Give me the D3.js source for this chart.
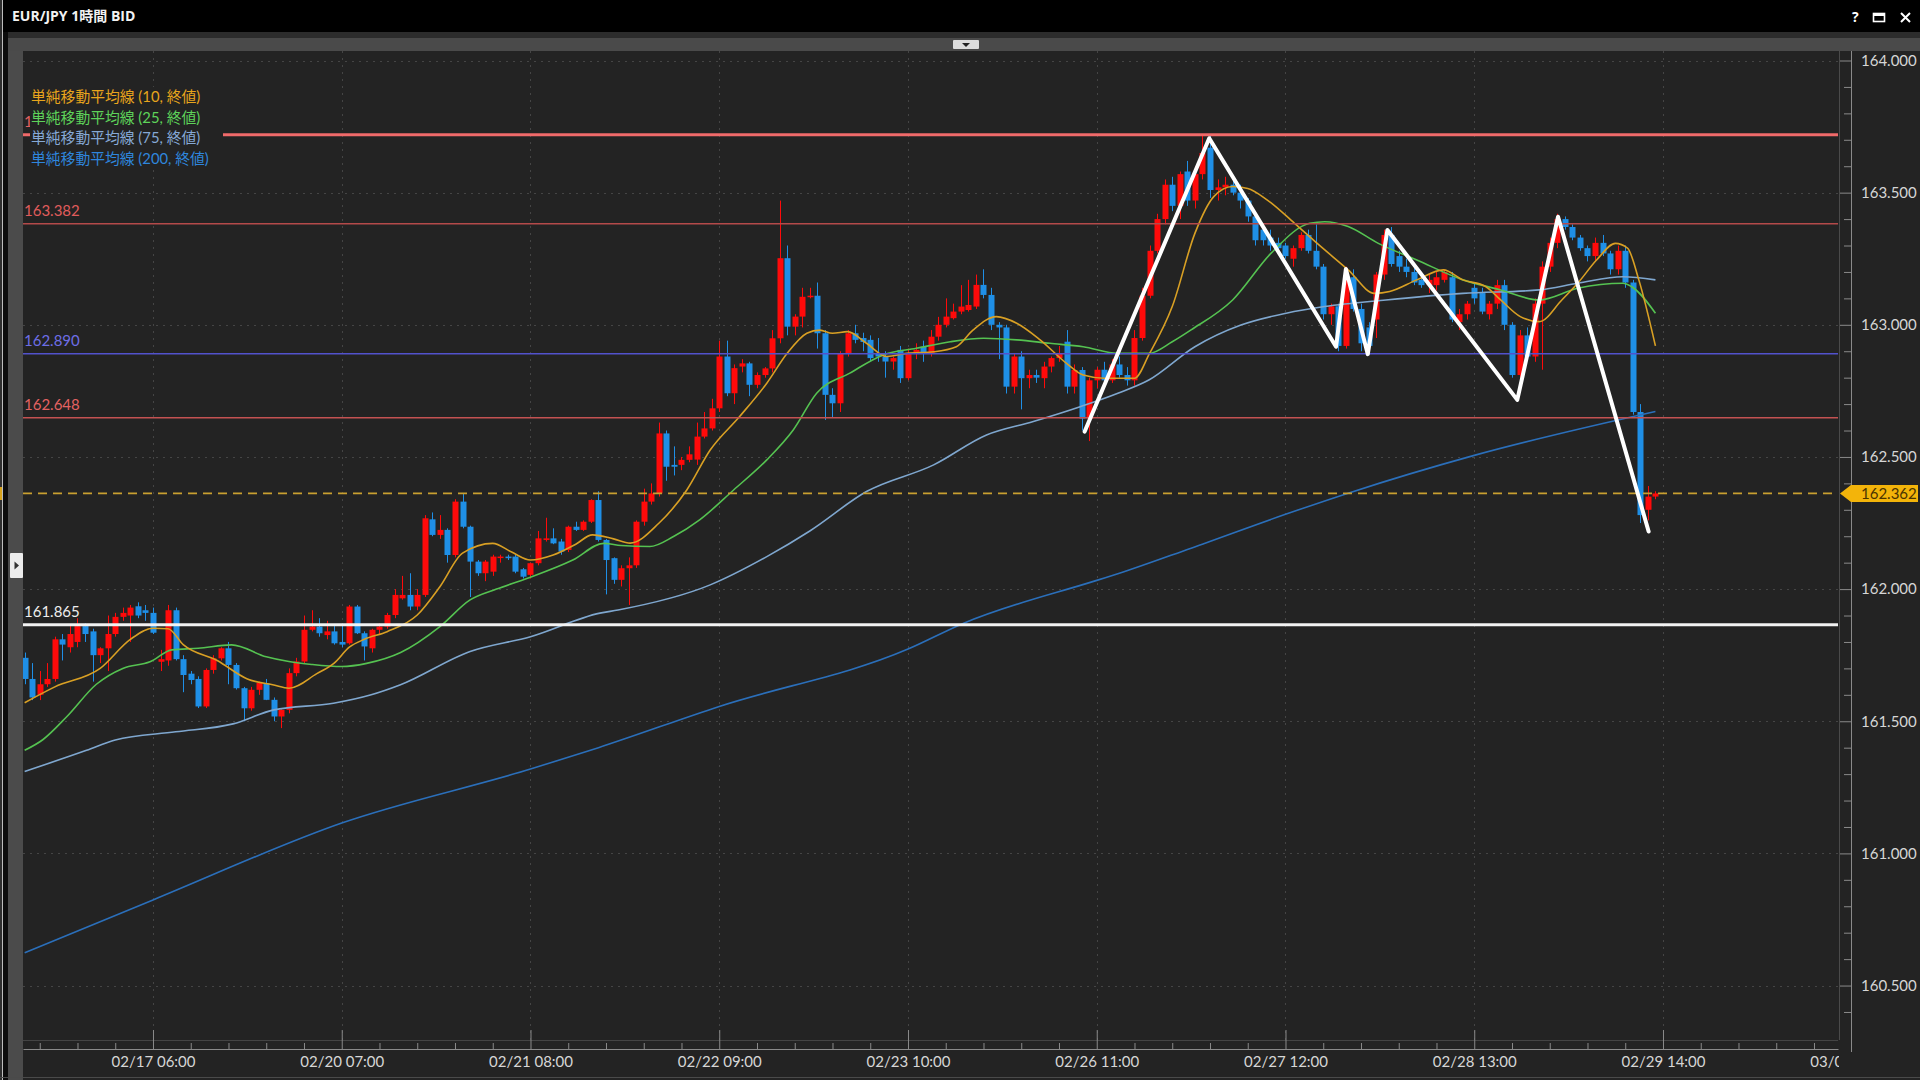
<!DOCTYPE html>
<html><head><meta charset="utf-8">
<script src="https://cdn.jsdelivr.net/npm/d3@7"></script>
<style>
html,body{margin:0;padding:0;background:#232323;overflow:hidden;}
svg{display:block;}
</style></head>
<body>
<svg id="c" width="1920" height="1080"></svg>
<script>
// ---------------- DATA ----------------
const chartTitle = "EUR/JPY 1時間 BID";
// hourly candles [open, high, low, close], first bar = 02/16 13:00
const candles = [
[161.74,161.76,161.64,161.66],[161.66,161.72,161.58,161.59],[161.60,161.69,161.58,161.64],[161.64,161.72,161.63,161.66],[161.66,161.82,161.65,161.81],[161.81,161.83,161.73,161.79],[161.78,161.86,161.76,161.83],[161.80,161.89,161.78,161.86],[161.86,161.87,161.80,161.83],[161.84,161.85,161.65,161.75],
[161.75,161.78,161.72,161.776],[161.776,161.90,161.69,161.83],[161.83,161.91,161.82,161.895],[161.895,161.93,161.88,161.91],[161.90,161.94,161.80,161.93],[161.935,161.95,161.89,161.90],[161.92,161.94,161.88,161.91],[161.91,161.93,161.83,161.835],[161.725,161.77,161.69,161.735],[161.73,161.94,161.71,161.92],
[161.92,161.93,161.73,161.735],[161.735,161.75,161.61,161.675],[161.68,161.69,161.64,161.656],[161.66,161.67,161.55,161.556],[161.556,161.70,161.55,161.694],[161.694,161.75,161.68,161.738],[161.738,161.78,161.73,161.776],[161.776,161.80,161.64,161.713],[161.713,161.72,161.62,161.625],[161.625,161.63,161.50,161.549],
[161.549,161.63,161.54,161.619],[161.619,161.65,161.60,161.645],[161.644,161.66,161.58,161.581],[161.581,161.59,161.50,161.518],[161.518,161.545,161.474,161.543],[161.543,161.70,161.53,161.682],[161.682,161.74,161.67,161.726],[161.726,161.90,161.72,161.846],[161.846,161.92,161.84,161.858],[161.858,161.89,161.82,161.833],
[161.826,161.88,161.81,161.84],[161.84,161.86,161.79,161.795],[161.80,161.87,161.78,161.79],[161.795,161.94,161.79,161.934],[161.934,161.94,161.83,161.833],[161.833,161.84,161.73,161.783],[161.776,161.85,161.76,161.846],[161.846,161.87,161.83,161.858],[161.858,161.91,161.85,161.902],[161.902,162.00,161.89,161.978],
[161.965,162.05,161.96,161.978],[161.978,162.06,161.92,161.934],[161.934,162.00,161.92,161.978],[161.978,162.28,161.97,162.268],[162.264,162.29,162.20,162.205],[162.205,162.28,162.19,162.224],[162.224,162.23,162.10,162.129],[162.129,162.34,162.12,162.331],[162.331,162.36,162.23,162.236],[162.236,162.24,161.97,162.104],
[162.104,162.11,162.05,162.060],[162.060,162.11,162.03,162.104],[162.066,162.13,162.05,162.123],[162.118,162.13,162.10,162.123],[162.123,162.13,162.11,162.117],[162.123,162.13,162.06,162.066],[162.075,162.08,162.04,162.047],[162.054,162.10,162.04,162.098],[162.098,162.22,162.09,162.192],[162.186,162.27,162.18,162.192],
[162.192,162.23,162.17,162.173],[162.18,162.19,162.13,162.142],[162.148,162.24,162.14,162.236],[162.236,162.255,162.22,162.224],[162.224,162.26,162.22,162.255],[162.255,162.34,162.25,162.337],[162.337,162.37,162.18,162.186],[162.186,162.19,161.98,162.110],[162.117,162.12,162.02,162.035],[162.035,162.09,162.01,162.079],
[162.079,162.12,161.94,162.09],[162.09,162.26,162.08,162.255],[162.255,162.38,162.24,162.331],[162.331,162.40,162.32,162.362],[162.362,162.63,162.35,162.589],[162.589,162.60,162.41,162.463],[162.47,162.54,162.43,162.463],[162.47,162.50,162.45,162.489],[162.489,162.54,162.48,162.51],[162.49,162.63,162.47,162.577],
[162.577,162.67,162.57,162.608],[162.608,162.72,162.60,162.684],[162.684,162.94,162.67,162.880],[162.880,162.94,162.73,162.741],[162.741,162.85,162.70,162.836],[162.842,162.87,162.82,162.854],[162.854,162.86,162.73,162.773],[162.773,162.82,162.76,162.810],[162.810,162.84,162.80,162.835],[162.835,162.98,162.82,162.949],
[162.949,163.47,162.93,163.252],[163.252,163.30,162.96,162.993],[162.993,163.04,162.96,163.031],[163.031,163.14,162.99,163.106],[163.106,163.14,163.10,163.11],[163.11,163.16,162.91,162.968],[162.968,162.98,162.64,162.735],[162.735,162.76,162.65,162.703],[162.703,162.90,162.67,162.892],[162.892,162.98,162.88,162.968],
[162.968,163.00,162.93,162.943],[162.95,162.97,162.90,162.935],[162.943,162.96,162.86,162.874],[162.89,162.95,162.86,162.88],[162.88,162.90,162.80,162.861],[162.861,162.88,162.83,162.874],[162.905,162.92,162.78,162.798],[162.798,162.91,162.79,162.892],[162.892,162.93,162.87,162.905],[162.917,162.94,162.86,162.892],
[162.892,162.98,162.88,162.955],[162.955,163.03,162.94,163.000],[163.000,163.10,162.99,163.031],[163.025,163.08,163.02,163.050],[163.05,163.15,163.04,163.069],[163.056,163.17,163.05,163.075],[163.069,163.19,163.06,163.151],[163.151,163.21,163.10,163.113],[163.113,163.14,162.98,163.000],[163.00,163.01,162.87,162.99],
[162.99,163.00,162.74,162.766],[162.766,162.89,162.74,162.880],[162.880,162.90,162.68,162.798],[162.798,162.83,162.76,162.81],[162.81,162.83,162.78,162.80],[162.798,162.86,162.76,162.842],[162.842,162.88,162.82,162.874],[162.874,162.92,162.86,162.890],[162.936,162.98,162.74,162.766],[162.766,162.85,162.74,162.829],
[162.829,162.84,162.60,162.645],[162.645,162.80,162.56,162.79],[162.79,162.84,162.76,162.83],[162.83,162.86,162.77,162.79],[162.79,162.87,162.78,162.85],[162.85,162.88,162.80,162.81],[162.81,162.84,162.77,162.79],[162.79,162.98,162.77,162.95],[162.95,163.14,162.94,163.11],[163.11,163.30,163.10,163.28],
[163.28,163.42,163.27,163.40],[163.40,163.55,163.38,163.53],[163.53,163.56,163.43,163.45],[163.45,163.58,163.40,163.57],[163.58,163.62,163.45,163.47],[163.47,163.60,163.44,163.57],[163.57,163.72,163.55,163.65],[163.67,163.72,163.48,163.51],[163.51,163.55,163.47,163.52],[163.52,163.56,163.49,163.53],
[163.53,163.55,163.49,163.50],[163.50,163.53,163.44,163.47],[163.47,163.48,163.39,163.41],[163.41,163.42,163.30,163.32],[163.36,163.38,163.30,163.32],[163.33,163.36,163.28,163.30],[163.31,163.33,163.28,163.29],[163.30,163.31,163.25,163.26],[163.25,163.30,163.22,163.29],[163.29,163.35,163.28,163.34],
[163.34,163.36,163.27,163.28],[163.28,163.38,163.21,163.22],[163.22,163.23,163.02,163.04],[163.04,163.08,163.00,163.07],[163.07,163.08,162.90,162.92],[162.92,163.22,162.91,163.18],[163.18,163.21,163.05,163.06],[163.06,163.08,162.90,162.93],[162.99,163.01,162.90,162.92],[163.02,163.20,162.95,163.19],
[163.19,163.36,163.17,163.34],[163.34,163.37,163.22,163.23],[163.26,163.28,163.20,163.22],[163.22,163.25,163.18,163.20],[163.20,163.23,163.15,163.16],[163.17,163.19,163.14,163.15],[163.15,163.19,163.12,163.17],[163.15,163.20,163.13,163.18],[163.17,163.21,163.16,163.20],[163.18,163.20,163.01,163.02],
[163.01,163.06,162.98,163.04],[163.04,163.09,163.02,163.08],[163.14,163.16,163.08,163.10],[163.12,163.14,163.04,163.05],[163.04,163.09,163.02,163.08],[163.08,163.17,163.06,163.15],[163.15,163.17,162.98,163.00],[163.00,163.01,162.80,162.81],[162.81,162.98,162.79,162.96],[162.96,162.99,162.87,162.88],
[162.88,163.10,162.86,163.08],[163.08,163.24,162.83,163.22],[163.22,163.33,163.20,163.31],[163.31,163.42,163.29,163.40],[163.40,163.41,163.36,163.37],[163.37,163.38,163.32,163.33],[163.33,163.34,163.28,163.29],[163.29,163.30,163.24,163.26],[163.26,163.33,163.24,163.31],[163.31,163.34,163.26,163.27],
[163.27,163.28,163.19,163.21],[163.21,163.30,163.19,163.28],[163.28,163.30,163.14,163.16],[163.16,163.17,162.66,162.67],[162.67,162.70,162.25,162.28],[162.30,162.39,162.26,162.35],[162.35,162.37,162.34,162.362]
];
// moving averages: [bar index, value]
const ma10 = [[0,161.57],[4,161.63],[10,161.70],[14,161.81],[17,161.852],[19,161.85],[21,161.79],[25.5,161.73],[29.5,161.66],[33,161.637],[35,161.625],[38.7,161.68],[41,161.72],[43,161.78],[45,161.81],[48,161.839],[52,161.902],[55,162.009],[58,162.136],[62,162.173],[64.5,162.14],[67,162.11],[70,162.129],[73,162.17],[75.2,162.205],[78,162.19],[80.2,162.174],[84,162.249],[87.7,162.375],[90.8,162.526],[94.7,162.653],[98.3,162.779],[101,162.892],[103.6,162.968],[105.3,162.98],[107,162.968],[109,162.974],[111.5,162.93],[114.2,162.88],[116.8,162.892],[120.4,162.898],[123.4,162.917],[125.6,162.98],[128.7,163.031],[131.4,163.006],[134.5,162.943],[138,162.854],[140.2,162.81],[143,162.798],[147,162.798],[149,162.892],[152,163.069],[155,163.346],[157.5,163.485],[160,163.523],[162,163.516],[164.6,163.472],[168.2,163.384],[171.2,163.308],[175.3,163.208],[178.8,163.119],[180.8,163.126],[184.4,163.17],[187.9,163.208],[190.5,163.17],[193.5,163.145],[195.5,163.094],[198.1,163.031],[200.6,163.012],[203.6,163.094],[205.7,163.157],[208.2,163.245],[210.7,163.308],[212.3,163.29],[213.8,163.17],[216,162.92]];
const ma25 = [[0,161.39],[2.4,161.43],[5.6,161.518],[9.5,161.64],[13,161.70],[16.6,161.725],[19.5,161.77],[23,161.776],[27.4,161.789],[32,161.744],[35,161.726],[38,161.715],[42,161.707],[45.3,161.719],[49.8,161.76],[55,161.858],[59,161.959],[62.5,162.00],[66.6,162.041],[72.6,162.11],[76.7,162.173],[79,162.165],[82.8,162.161],[86,162.20],[89.4,162.262],[93.9,162.375],[98.3,162.489],[101.8,162.602],[104.9,162.741],[109.3,162.817],[113.7,162.886],[118.1,162.911],[122.6,162.936],[127,162.949],[131.4,162.943],[135.8,162.93],[140.2,162.917],[144.8,162.892],[148.9,162.892],[152,162.936],[154.5,162.981],[160,163.094],[165.1,163.271],[170.2,163.384],[172.2,163.39],[175.3,163.372],[179.3,163.308],[184.4,163.245],[190.5,163.17],[195.5,163.132],[200.6,163.094],[205.7,163.138],[211.7,163.157],[212.8,163.145],[216,163.044]];
const ma75 = [[0,161.31],[8.2,161.39],[12,161.429],[20,161.46],[27.6,161.49],[33,161.543],[40.9,161.568],[45.9,161.60],[49.7,161.637],[59,161.764],[67,161.82],[76.2,161.909],[78.6,161.921],[90.8,162.016],[98.3,162.123],[104,162.22],[111.5,162.369],[120.4,162.47],[127.4,162.583],[133.6,162.634],[139.8,162.69],[144.8,162.741],[148.9,162.791],[155,162.917],[161.1,162.999],[167.1,163.044],[172.2,163.069],[180.3,163.094],[190.5,163.119],[200.6,163.132],[205.7,163.157],[211.7,163.182],[216,163.17]];
const ma200 = [[0,160.624],[17,160.824],[42,161.115],[67,161.319],[76,161.40],[92,161.556],[117,161.773],[124.3,161.87],[142,162.033],[145,162.06],[154.5,162.155],[167,162.283],[175.3,162.363],[192,162.506],[216,162.672]];
const maNames = ["単純移動平均線 (10, 終値)","単純移動平均線 (25, 終値)","単純移動平均線 (75, 終値)","単純移動平均線 (200, 終値)"];
// horizontal levels
const levels = [163.719, 163.382, 162.890, 162.648, 161.865];
const lastPrice = 162.362;
// hand-drawn zigzag: [bar index, price]
const zigzag = [[140.4,162.596],[156.9,163.706],[173.7,162.917],[175.0,163.211],[177.9,162.889],[180.5,163.359],[197.7,162.716],[203.1,163.409],[215.1,162.218]];
// axes
const priceTicks = [160.5,161,161.5,162,162.5,163,163.5,164];
const timeTickBars = [17,42,67,92,117,142,167,192,217,242];
const timeTickLabels = ["02/17 06:00","02/20 07:00","02/21 08:00","02/22 09:00","02/23 10:00","02/26 11:00","02/27 12:00","02/28 13:00","02/29 14:00","03/01 15:00"];

// ---------------- STYLE ----------------
const W=1920,H=1080;
const P={l:23,r:1838,t:51,b:1040};
const UP="#ff0a0a", DN="#1f8fe6";
const maColors=["#d9a024","#55c251","#7fa7cf","#2b6fba"];
const legendColors=["#e8a51c","#5ed35a","#86a9d6","#2f86dd"];
const levelLine=[{c:"#f06a6a",w:3,t:"#e36060"},{c:"#b44a4a",w:1.5,t:"#e05c5c"},{c:"#5252cc",w:1.5,t:"#6e6ee6"},{c:"#c45252",w:1.5,t:"#e36262"},{c:"#f2f2f2",w:3,t:"#eeeeee"}];
const FONT="Lato, 'Noto Sans CJK JP', sans-serif";

const svg=d3.select('#c');
const x=d3.scaleLinear().domain([-0.2185,240.18]).range([P.l,P.r]);
const y=d3.scaleLinear().domain([160,164]).range([1117.7,60.5]);

// background + frame
svg.append('rect').attr('width',W).attr('height',H).attr('fill','#232323');
svg.append('rect').attr('x',0).attr('y',0).attr('width',W).attr('height',32).attr('fill','#000');
svg.append('rect').attr('x',0).attr('y',32).attr('width',W).attr('height',6).attr('fill','#2c2c2c');
svg.append('rect').attr('x',0).attr('y',38).attr('width',W).attr('height',13).attr('fill','#4a4a4a');
svg.append('rect').attr('x',0).attr('y',0).attr('width',3).attr('height',H).attr('fill','#2e2e2e');
svg.append('rect').attr('x',2).attr('y',0).attr('width',1).attr('height',H).attr('fill','#bdbdbd');
svg.append('rect').attr('x',3).attr('y',32).attr('width',5).attr('height',H-32).attr('fill','#0c0c0c');
svg.append('rect').attr('x',8).attr('y',51).attr('width',15).attr('height',H-51).attr('fill','#4b4b4b');
svg.append('rect').attr('x',0).attr('y',487).attr('width',2).attr('height',13).attr('fill','#d6a21c');
// side button
svg.append('rect').attr('x',10).attr('y',553).attr('width',13).attr('height',25).attr('fill','#ececec').attr('rx',1);
svg.append('path').attr('d','M14.5,561.5 L19,565.5 L14.5,569.5 Z').attr('fill','#333');
// dropdown button
svg.append('rect').attr('x',953).attr('y',40).attr('width',26).attr('height',9).attr('fill','#dcdcdc').attr('rx',1);
svg.append('path').attr('d','M962,43 L970,43 L966,47 Z').attr('fill','#222');
// title
svg.append('text').attr('x',12).attr('y',21).attr('fill','#f2f2f2').attr('font-family',"'Open Sans','Noto Sans CJK JP',sans-serif").attr('font-weight','bold').attr('font-size',14).text(chartTitle);
svg.append('text').attr('x',1852).attr('y',22).attr('fill','#fff').attr('font-family',"'Open Sans',sans-serif").attr('font-weight','bold').attr('font-size',14).text('?');
svg.append('rect').attr('x',1873.5).attr('y',13.5).attr('width',11).attr('height',8).attr('fill','none').attr('stroke','#fff').attr('stroke-width',1.6);
svg.append('rect').attr('x',1873).attr('y',13).attr('width',12).attr('height',3).attr('fill','#fff');
svg.append('path').attr('d','M1901,13 L1910,22 M1910,13 L1901,22').attr('stroke','#fff').attr('stroke-width',2);

// clips
const defs=svg.append('defs');
defs.append('clipPath').attr('id','pc').append('rect').attr('x',P.l).attr('y',P.t).attr('width',P.r-P.l).attr('height',P.b-P.t);
defs.append('clipPath').attr('id','xc').append('rect').attr('x',P.l).attr('y',1000).attr('width',P.r-P.l+1).attr('height',80);
defs.append('clipPath').attr('id','lc').append('rect').attr('x',P.l).attr('y',P.t).attr('width',7).attr('height',200);

// grid
const grid=svg.append('g').attr('clip-path','url(#pc)');
grid.selectAll('line.h').data(priceTicks).join('line')
  .attr('x1',P.l).attr('x2',P.r).attr('y1',d=>Math.round(y(d))+0.5).attr('y2',d=>Math.round(y(d))+0.5)
  .attr('stroke','#454545').attr('stroke-dasharray','2,5');
grid.selectAll('line.v').data(timeTickBars).join('line')
  .attr('x1',d=>Math.round(x(d))+0.5).attr('x2',d=>Math.round(x(d))+0.5).attr('y1',P.t).attr('y2',P.b)
  .attr('stroke','#454545').attr('stroke-dasharray','2,5');

// candles
const cg=svg.append('g').attr('clip-path','url(#pc)');
cg.selectAll('line.w').data(candles).join('line')
  .attr('x1',(d,i)=>Math.round(x(i))+0.5).attr('x2',(d,i)=>Math.round(x(i))+0.5)
  .attr('y1',d=>y(d[1])).attr('y2',d=>y(d[2]))
  .attr('stroke',d=>d[3]>=d[0]?UP:DN).attr('stroke-width',1);
cg.selectAll('rect.b').data(candles).join('rect')
  .attr('x',(d,i)=>Math.round(x(i))-2.5).attr('width',6)
  .attr('y',d=>y(Math.max(d[0],d[3])))
  .attr('height',d=>Math.max(1.5,Math.abs(y(d[0])-y(d[3]))))
  .attr('fill',d=>d[3]>=d[0]?UP:DN);

// moving averages
const lg=d3.line().x(d=>x(d[0])).y(d=>y(d[1])).curve(d3.curveMonotoneX);
const mg=svg.append('g').attr('clip-path','url(#pc)').attr('fill','none');
[ma200,ma75,ma25,ma10].forEach((s,k)=>{
  mg.append('path').attr('d',lg(s)).attr('stroke',maColors[3-k]).attr('stroke-width',1.6);
});

// levels
const lv=svg.append('g').attr('clip-path','url(#pc)');
levels.forEach((v,k)=>{
  lv.append('line').attr('x1',P.l).attr('x2',P.r).attr('y1',y(v)).attr('y2',y(v))
    .attr('stroke',levelLine[k].c).attr('stroke-width',levelLine[k].w);
  const t=lv.append('text').attr('x',24).attr('y',y(v)-8).attr('fill',levelLine[k].t)
    .attr('font-family',FONT).attr('font-size',15).text(v.toFixed(3));
  if(k===0) t.attr('clip-path','url(#lc)');
});
// last price dashed
lv.append('line').attr('x1',P.l).attr('x2',P.r).attr('y1',y(lastPrice)).attr('y2',y(lastPrice))
  .attr('stroke','#c9a030').attr('stroke-width',1.6).attr('stroke-dasharray','9,6');

// zigzag
svg.append('path').attr('clip-path','url(#pc)').attr('d',d3.line().x(d=>x(d[0])).y(d=>y(d[1]))(zigzag))
  .attr('fill','none').attr('stroke','#fff').attr('stroke-width',4).attr('stroke-linejoin','round').attr('stroke-linecap','round');

// legend
const leg=svg.append('g');
leg.append('rect').attr('x',30).attr('y',87).attr('width',193).attr('height',82).attr('fill','#232323');
maNames.forEach((n,k)=>{
  leg.append('text').attr('x',31).attr('y',102+k*20.5).attr('fill',legendColors[k])
    .attr('font-family',FONT).attr('font-size',14.8).text(n);
});

// y axis
const ya=svg.append('g').attr('transform','translate(1851,0)');
ya.call(d3.axisRight(y).tickValues(priceTicks).tickSize(-12).tickPadding(10).tickFormat(d3.format('.3f')));
const minor=d3.range(1604,1640).map(v=>v/10).filter(v=>Math.abs(v*2-Math.round(v*2))>1e-6);
const ya2=svg.append('g').attr('transform','translate(1851,0)');
ya2.call(d3.axisRight(y).tickValues(minor).tickSize(-7).tickFormat(''));
[ya,ya2].forEach(g=>{g.select('.domain').remove();g.selectAll('line').attr('stroke','#8a8a8a');});
ya.selectAll('text').attr('fill','#d6d6d6').attr('font-family',FONT).attr('font-size',15);
svg.append('line').attr('x1',1851.5).attr('x2',1851.5).attr('y1',P.t).attr('y2',1052).attr('stroke','#8a8a8a');
svg.append('line').attr('x1',1839.5).attr('x2',1839.5).attr('y1',P.t).attr('y2',1040).attr('stroke','#4a4a4a');

// current price tag
const py=y(lastPrice);
svg.append('path').attr('d',`M1840,${py} L1851,${py-8.5} L1918,${py-8.5} L1918,${py+8.5} L1851,${py+8.5} Z`).attr('fill','#f3b40a');
svg.append('text').attr('x',1861).attr('y',py).attr('dy','0.35em').attr('fill','#4a3300')
  .attr('font-family',FONT).attr('font-size',15).text(lastPrice.toFixed(3));

// x axis
svg.append('line').attr('x1',P.l).attr('x2',P.r).attr('y1',1040.5).attr('y2',1040.5).attr('stroke','#444');
const xg=svg.append('g').attr('clip-path','url(#xc)');
const xa=xg.append('g').attr('transform','translate(0,1049)');
xa.call(d3.axisBottom(x).tickValues(timeTickBars).tickSize(-19).tickSizeOuter(0).tickPadding(7).tickFormat((d,i)=>timeTickLabels[i]));
const xminor=d3.range(2,241,5).filter(v=>!timeTickBars.includes(v));
const xa2=xg.append('g').attr('transform','translate(0,1049)');
xa2.call(d3.axisBottom(x).tickValues(xminor).tickSize(-6).tickSizeOuter(0).tickFormat(''));
xa.select('.domain').attr('stroke','#8a8a8a');
xa2.select('.domain').remove();
[xa,xa2].forEach(g=>g.selectAll('line').attr('stroke','#8a8a8a'));
xa.selectAll('text').attr('fill','#d6d6d6').attr('font-family',FONT).attr('font-size',15);
svg.append('line').attr('x1',0).attr('x2',W).attr('y1',1077.5).attr('y2',1077.5).attr('stroke','#4a4a4a');
</script>
</body></html>
